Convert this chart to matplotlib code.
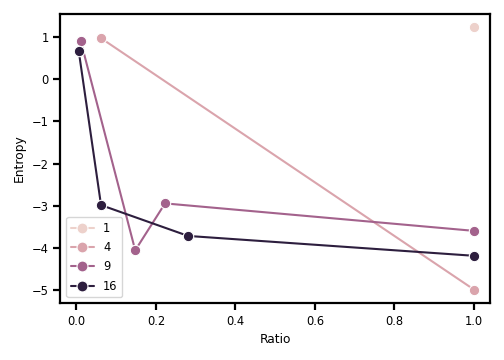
import numpy as np
import pandas as pd
import matplotlib
matplotlib.use("Agg")
import matplotlib.pyplot as plt
import seaborn as sns

# values
group = [1, 4, 4, 9, 9, 9, 9, 16, 16, 16, 16]
ratio = [1.0, 0.062, 1.0, 0.011, 0.148, 0.223, 1.0, 0.006, 0.062, 0.281, 1.0]
entropy = [1.23, 0.97, -4.98, 0.90, -4.05, -2.94, -3.59, 0.66, -2.98, -3.71, -4.18]

df = pd.DataFrame({"Ratio": ratio, "Entropy": entropy, "hue": group})

sns.set_style("ticks")
plt.rcParams["font.family"] = ["DejaVu Sans"]
plt.rcParams["axes.linewidth"] = 1.6
plt.rcParams["axes.edgecolor"] = "black"
plt.rcParams["xtick.color"] = "black"
plt.rcParams["ytick.color"] = "black"
plt.rcParams["text.color"] = "black"
plt.rcParams["axes.labelcolor"] = "black"
plt.rcParams["xtick.major.width"] = 1.6
plt.rcParams["ytick.major.width"] = 1.6
plt.rcParams["xtick.major.size"] = 5
plt.rcParams["ytick.major.size"] = 5

fig, ax = plt.subplots(figsize=(5.04, 3.6), dpi=100)
fig.subplots_adjust(left=0.12, right=0.972, top=0.962, bottom=0.158)

sns.lineplot(data=df, x="Ratio", y="Entropy", hue="hue", marker="o",
             markersize=7.5, markeredgecolor="white", markeredgewidth=0.8,
             linewidth=1.5, legend="full", ax=ax)

ax.set_xlim(-0.04, 1.04)
ax.set_ylim(-5.3, 1.55)
ax.set_xticks([0.0, 0.2, 0.4, 0.6, 0.8, 1.0])
ax.set_yticks([-5, -4, -3, -2, -1, 0, 1])
ax.tick_params(labelsize=8.3)
ax.set_xlabel("Ratio", fontsize=8.8)
ax.set_ylabel("Entropy", fontsize=8.8)
for s in ax.spines.values():
    s.set_visible(True)

leg = ax.legend(loc="lower left", fontsize=8.3, title=None, handlelength=2,
                borderpad=0.4, labelspacing=0.55, markerscale=1.05)

fig.savefig("out.png", dpi=100)
